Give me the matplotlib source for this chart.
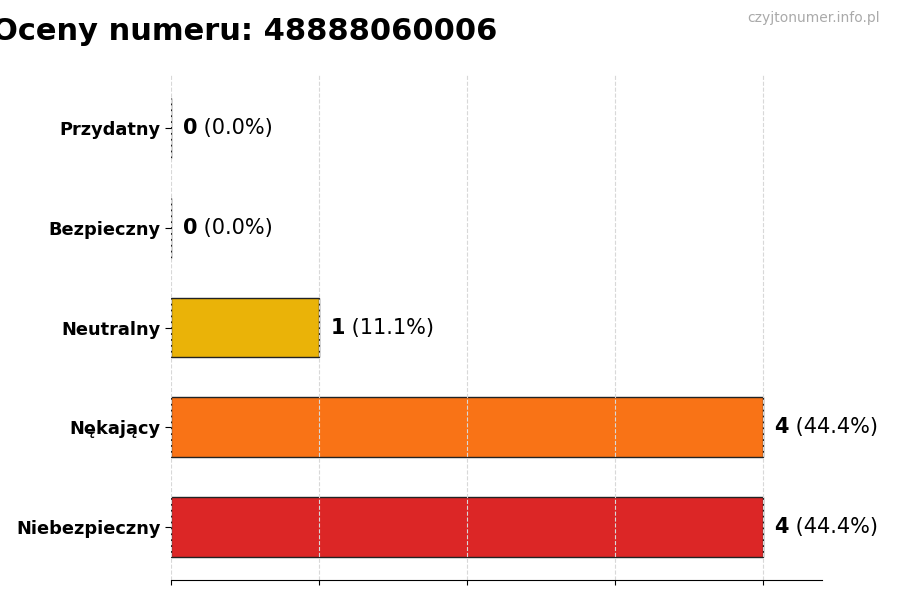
import matplotlib
matplotlib.use('Agg')
import matplotlib.pyplot as plt

# data
categories = ["Niebezpieczny", "Nękający", "Neutralny", "Bezpieczny", "Przydatny"]
values = [4, 4, 1, 0, 0]
colors = ["#DC2626", "#F97316", "#EAB308", "#3B82F6", "#22C55E"]
total = sum(values)
title = "Oceny numeru: 48888060006"
watermark = "czyjtonumer.info.pl"

fig = plt.figure(figsize=(9, 6), dpi=100)
ax = fig.add_axes([0.19, 0.0333, 0.723, 0.8417])

ax.barh(categories, values, height=0.6, color=colors, edgecolor="#222222", linewidth=1)
ax.set_xlim(0, 4.4)
ax.set_xticks([0, 1, 2, 3, 4])
ax.set_xticklabels([])
ax.grid(axis="x", linestyle="--", color="#d8d8d8", linewidth=0.8)
ax.tick_params(axis="y", labelsize=12.8, length=4)
for lbl in ax.get_yticklabels():
    lbl.set_fontweight("bold")
for s in ["top", "right", "left"]:
    ax.spines[s].set_visible(False)

# value labels: bold count + plain percentage
for i, v in enumerate(values):
    pct = 100 * v / total
    t = ax.text(v + 0.08, i, str(v), fontsize=15, fontweight="bold", va="center", ha="left")
    ax.annotate(" (%.1f%%)" % pct, xy=(1, 0.5), xycoords=t, va="center", ha="left", fontsize=15)

fig.text(0.272, 0.948, title, fontsize=22, fontweight="bold", ha="center", va="center")
fig.text(0.978, 0.97, watermark, fontsize=10, color="#aaaaaa", ha="right", va="center")

fig.savefig("out.png")
